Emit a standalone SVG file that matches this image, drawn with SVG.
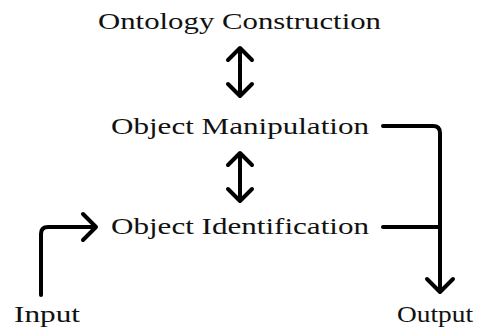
<svg xmlns="http://www.w3.org/2000/svg" width="488" height="331" viewBox="0 0 488 331">
<style>
text{font-family:"Liberation Serif","DejaVu Serif",serif;font-size:23px;fill:#111}
.c{fill:none;stroke:#000;stroke-width:4;stroke-linecap:round;stroke-linejoin:round}
</style>
<rect width="488" height="331" fill="#fff"/>
<g id="ontology"><text x="98" y="29" textLength="283" lengthAdjust="spacingAndGlyphs">Ontology Construction</text></g>
<g id="manipulation"><text x="111" y="134" textLength="258" lengthAdjust="spacingAndGlyphs">Object Manipulation</text></g>
<g id="identification"><text x="111" y="234" textLength="258" lengthAdjust="spacingAndGlyphs">Object Identification</text></g>
<g id="input"><text x="14" y="322" textLength="66" lengthAdjust="spacingAndGlyphs">Input</text></g>
<g id="output"><text x="397" y="322" textLength="76" lengthAdjust="spacingAndGlyphs">Output</text></g>
<g id="connectors" class="c">
<path d="M240 49V95M228 60L240 48L252 60M228 84L240 96L252 84"/>
<path d="M240 154V200M228 165L240 153L252 165M228 189L240 201L252 189"/>
<path d="M41 295V234Q41 227 48 227H95M83 214L96 227L83 240"/>
<path d="M383 126H433Q440 126 440 133V291M427 279L440 292L453 279"/>
<path d="M383 227H440"/>
</g>
</svg>
